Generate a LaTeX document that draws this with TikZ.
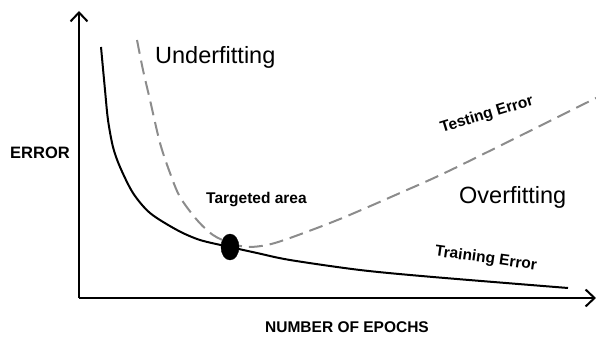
\documentclass[tikz,border=0pt]{standalone}
\usepackage{fontspec}
\setmainfont{Liberation Sans}
\usetikzlibrary{arrows.meta,shapes.geometric}
\definecolor{dashgray}{HTML}{8C8C8C}
\tikzset{
  axisline/.style={line width=2pt,-{Straight Barb[length=9pt,width=17pt,line width=2pt]}},
  trainline/.style={line width=2pt,black},
  testline/.style={line width=2pt,dashgray,dash pattern=on 14pt off 7pt},
  lbl/.style={inner sep=0pt,font=\bfseries\fontsize{15.5}{17}\selectfont},
  biglbl/.style={inner sep=0pt,font=\fontsize{23.5}{27}\selectfont},
}
\begin{document}
\begin{tikzpicture}[x=1pt,y=-1pt]
\useasboundingbox (0,0) rectangle (596,339);
\coordinate (origin) at (79,298);
\coordinate (ytop) at (79,11);
\coordinate (xend) at (596,298);
\draw[axisline] (origin) -- (ytop);
\draw[axisline] (origin) -- (xend);
% testing error
\draw[testline] plot[smooth,tension=0.5] coordinates {(137,40) (143,70) (150,100) (160,143) (170,173) (180,197) (197,220) (213,235) (230,243) (247,247) (267,245) (290,238) (340,219) (400,193) (455,168) (598,97)};
% training error
\draw[trainline] plot[smooth,tension=0.5] coordinates {(101,47) (105,90) (108,120) (113,147) (120,167) (133,193) (150,213) (177,230) (200,240) (230,247) (257,253) (290,260) (360,270) (433,277) (568,288)};
\node[draw=black,fill=black,ellipse,minimum width=18pt,minimum height=26pt,inner sep=0pt] (dot) at (230,247) {};
\node[biglbl,anchor=west] (under) at (155,57) {Underfitting};
\node[biglbl,anchor=west] (over) at (459,197) {Overfitting};
\node[lbl,anchor=west,font=\bfseries\fontsize{16.5}{18}\selectfont] (err) at (10,153) {ERROR};
\node[lbl,anchor=west] (target) at (206,200) {Targeted area};
\node[lbl,anchor=center] (epochs) at (347,327) {NUMBER OF EPOCHS};
\node[lbl,rotate=17] (test) at (487,115) {Testing Error};
\node[lbl,rotate=-8] (train) at (486,259) {Training Error};
\end{tikzpicture}
\end{document}
